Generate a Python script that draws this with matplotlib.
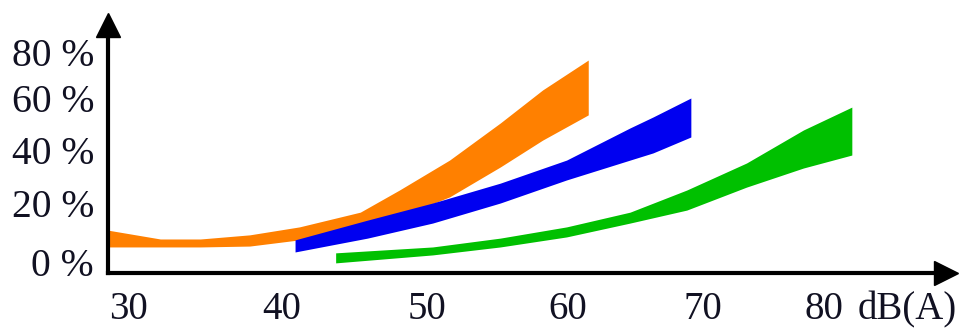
import numpy as np
import matplotlib
matplotlib.use("Agg")
import matplotlib.pyplot as plt

# tick values and labels
x_ticks = [30, 40, 50, 60, 70, 80]
x_labels = ["30", "40", "50", "60", "70", "80"]
y_ticks = [0, 20, 40, 60, 80]
y_labels = ["0 %", "20 %", "40 %", "60 %", "80 %"]

# the drawing's axes are not evenly spaced: where each tick sits (pixels)
x_knots = [0, 30, 40, 50, 60, 70, 80, 120]
x_pix = [-334, 128, 282, 427, 568, 703, 824, 1308]
y_knots = [-40, 0, 20, 40, 60, 80, 140]
y_pix = [-107, 11, 70, 123, 175, 221, 359]

# bands (lower / upper edge, % annoyed) against sound level dB(A)
orange_x = [28.7, 32.1, 34.7, 37.9, 41.2, 45.4, 48.1, 51.6, 55.2, 58.2, 61.5]
orange_lo = [5.1, 5.1, 5.1, 5.4, 7.5, 10.8, 15.3, 22.3, 33.6, 43.8, 53.5]
orange_hi = [10.8, 7.8, 7.8, 9.2, 11.9, 16.9, 24.9, 36.2, 50.4, 63.5, 76.5]

blue_x = [40.9, 45.9, 50.4, 55.2, 59.9, 64.6, 66.3, 69.1]
blue_lo = [3.4, 8.1, 13.2, 20.0, 28.7, 36.2, 38.9, 45.0]
blue_hi = [7.5, 14.2, 20.0, 27.5, 36.2, 48.5, 52.7, 60.0]

green_x = [43.7, 50.4, 55.2, 59.9, 64.6, 68.8, 73.6, 78.3, 82.3]
green_lo = [-0.3, 2.4, 5.1, 8.5, 13.2, 17.6, 26.0, 33.2, 38.1]
green_hi = [3.1, 5.1, 8.1, 11.9, 16.9, 24.9, 35.1, 47.7, 56.5]


def xf(v):
    return np.interp(v, x_knots, x_pix)


def xi(p):
    return np.interp(p, x_pix, x_knots)


def yf(v):
    return np.interp(v, y_knots, y_pix)


def yi(p):
    return np.interp(p, y_pix, y_knots)


plt.rcParams['font.family'] = ['Liberation Serif', 'DejaVu Serif']

fig = plt.figure(figsize=(9.61, 3.29), dpi=100)
ax = fig.add_axes([108 / 961, 56 / 329, (946 - 108) / 961, (273 - 25) / 329])
ax.set_xscale('function', functions=(xf, xi))
ax.set_yscale('function', functions=(yf, yi))
ax.set_xlim(xi(108), xi(946))
ax.set_ylim(yi(0), yi(248))

ax.fill_between(orange_x, orange_lo, orange_hi, color='#ff8000', lw=0)
ax.fill_between(blue_x, blue_lo, blue_hi, color='#0000f0', lw=0)
ax.fill_between(green_x, green_lo, green_hi, color='#00c000', lw=0)

# axes with arrow heads
for s in ['top', 'right']:
    ax.spines[s].set_visible(False)
for s in ['left', 'bottom']:
    ax.spines[s].set_linewidth(3)
ax.plot(1, 0, '>k', ms=17, transform=ax.transAxes, clip_on=False)
ax.plot(0, 1, '^k', ms=17, transform=ax.transAxes, clip_on=False)

ax.set_xticks(x_ticks)
ax.set_xticklabels(x_labels)
ax.set_yticks(y_ticks)
ax.set_yticklabels(y_labels)
ax.minorticks_off()
ax.tick_params(axis='x', length=0, pad=13, labelsize=28, labelcolor='#111122')
ax.tick_params(axis='y', length=0, pad=10, labelsize=28.5, labelcolor='#111122')
ax.annotate("dB(A)", xy=(80, 0), xycoords=ax.get_xaxis_transform(),
            xytext=(24, -13), textcoords='offset points', ha='left', va='top',
            fontsize=28, color='#111122', annotation_clip=False)

fig.savefig("out.png", dpi=100)
